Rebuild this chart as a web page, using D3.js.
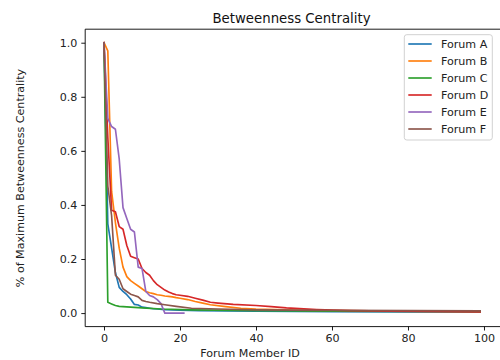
<!DOCTYPE html>
<html>
<head>
<meta charset="utf-8">
<script src="https://cdn.jsdelivr.net/npm/d3@7"></script>
<style>
  body { margin: 0; background: #fff; }
  svg { display: block; font-family: "DejaVu Sans", sans-serif; }
</style>
</head>
<body>
<svg id="chart" width="500" height="360"></svg>
<script>
// data: [member id, share of max betweenness]
const forumNames = ["Forum A", "Forum B", "Forum C", "Forum D", "Forum E", "Forum F"];

const forumA = [[0, 1.0], [1, 0.33], [2, 0.24], [3, 0.15], [4, 0.095], [5, 0.08], [6, 0.068], [7, 0.052],
  [8, 0.032], [9, 0.03], [10, 0.022], [11, 0.02], [12, 0.018], [13, 0.016], [14, 0.015], [16, 0.013],
  [18, 0.012], [20, 0.011], [25, 0.009], [40, 0.007], [60, 0.005], [80, 0.004], [99, 0.004]];
const forumB = [[0, 1.0], [1, 0.97], [2, 0.45], [3, 0.335], [4, 0.24], [5, 0.17], [6, 0.135], [7, 0.12],
  [8, 0.11], [9, 0.1], [10, 0.09], [11, 0.08], [12, 0.075], [13, 0.072], [14, 0.068], [15, 0.066],
  [16, 0.063], [17, 0.062], [18, 0.06], [19, 0.057], [20, 0.055], [22, 0.05], [24, 0.043], [26, 0.037],
  [28, 0.031], [32, 0.024], [36, 0.018], [40, 0.015], [50, 0.011], [60, 0.009], [80, 0.007], [99, 0.006]];
const forumC = [[0, 1.0], [1, 0.04], [2, 0.034], [3, 0.028], [4, 0.025], [6, 0.023], [10, 0.019],
  [15, 0.015], [23, 0.012], [40, 0.009], [60, 0.007], [80, 0.006], [99, 0.005]];
const forumD = [[0, 1.0], [1, 0.65], [2, 0.38], [3, 0.375], [4, 0.32], [5, 0.31], [6, 0.25], [7, 0.21],
  [8, 0.205], [9, 0.2], [10, 0.165], [11, 0.15], [12, 0.14], [13, 0.12], [14, 0.105], [15, 0.095],
  [16, 0.085], [17, 0.078], [18, 0.072], [19, 0.068], [20, 0.066], [22, 0.062], [24, 0.055], [26, 0.048],
  [28, 0.04], [30, 0.037], [34, 0.032], [40, 0.028], [44, 0.024], [48, 0.019], [56, 0.013], [65, 0.009],
  [75, 0.007], [99, 0.004]];
const forumE = [[0, 1.0], [1, 0.72], [2, 0.69], [3, 0.68], [4, 0.57], [5, 0.39], [6, 0.35], [7, 0.31],
  [8, 0.3], [9, 0.17], [10, 0.165], [11, 0.08], [12, 0.065], [13, 0.06], [14, 0.05], [15, 0.035],
  [16, 0.0], [17, 0.0], [18, 0.0], [19, 0.0], [20, 0.0], [21, 0.0]];
const forumF = [[0, 1.0], [1, 0.47], [2, 0.36], [3, 0.14], [4, 0.125], [5, 0.09], [6, 0.08], [7, 0.07],
  [8, 0.065], [9, 0.06], [10, 0.047], [11, 0.043], [12, 0.04], [14, 0.035], [16, 0.031], [19, 0.025],
  [23, 0.018], [30, 0.015], [40, 0.012], [60, 0.01], [80, 0.009], [99, 0.008]];

const xTicks = [0, 20, 40, 60, 80, 100];
const yTicks = [0.0, 0.2, 0.4, 0.6, 0.8, 1.0];

const series = [forumA, forumB, forumC, forumD, forumE, forumF];

// plot box, px (right spine falls just past the picture edge)
const plotL = 85.2, plotR = 499, plotT = 29.2, plotB = 326.6;

const svg = d3.select("#chart");

const x = d3.scaleLinear().domain([-4.95, 103.95]).range([plotL, plotR]);
const y = d3.scaleLinear().domain([-0.05, 1.05]).range([plotB, plotT]);
const color = d3.scaleOrdinal().domain(forumNames).range(d3.schemeCategory10);

const line = d3.line()
  .x(d => x(d[0]))
  .y(d => y(d[1]));

// lines
svg.append("g")
  .selectAll("path")
  .data(series)
  .join("path")
  .attr("d", d => line(d))
  .attr("fill", "none")
  .attr("stroke", (d, i) => color(forumNames[i]))
  .attr("stroke-width", 1.65)
  .attr("stroke-linejoin", "round")
  .attr("stroke-linecap", "square");

// axes
const xAxis = svg.append("g")
  .attr("transform", "translate(0," + plotB + ")")
  .call(d3.axisBottom(x).tickValues(xTicks).tickSize(3.9).tickPadding(3.9).tickFormat(d3.format("d")));

const yAxis = svg.append("g")
  .attr("transform", "translate(" + plotL + ",0)")
  .call(d3.axisLeft(y).tickValues(yTicks).tickSize(3.9).tickPadding(3.9).tickFormat(d3.format(".1f")));

[xAxis, yAxis].forEach(a => {
  a.select(".domain").remove();
  a.selectAll("line").attr("stroke", "#000").attr("stroke-width", 0.9);
  a.selectAll("text")
    .attr("fill", "#222")
    .style("font-family", "DejaVu Sans")
    .style("font-size", "11.1px");
});

// frame: left, top, bottom spines
svg.append("path")
  .attr("d", "M" + (plotR + 2) + "," + plotT + "H" + plotL + "V" + plotB + "H" + (plotR + 2))
  .attr("fill", "none")
  .attr("stroke", "#000")
  .attr("stroke-width", 0.9);

// title & labels
svg.append("text")
  .attr("x", 291.5)
  .attr("y", 22.5)
  .attr("text-anchor", "middle")
  .attr("fill", "#111")
  .style("font-size", "13.3px")
  .text("Betweenness Centrality");

svg.append("text")
  .attr("x", 250)
  .attr("y", 356.5)
  .attr("text-anchor", "middle")
  .attr("fill", "#222")
  .style("font-size", "11.1px")
  .text("Forum Member ID");

svg.append("text")
  .attr("transform", "translate(24,178) rotate(-90)")
  .attr("text-anchor", "middle")
  .attr("fill", "#222")
  .style("font-size", "11.1px")
  .text("% of Maximum Betweenness Centrality");

// legend
const lg = svg.append("g");
lg.append("rect")
  .attr("x", 404.3)
  .attr("y", 34.7)
  .attr("width", 88)
  .attr("height", 105.3)
  .attr("rx", 2.5)
  .attr("fill", "#fff")
  .attr("fill-opacity", 0.8)
  .attr("stroke", "#ccc")
  .attr("stroke-width", 0.9);

const items = lg.selectAll("g.item")
  .data(forumNames)
  .join("g")
  .attr("class", "item")
  .attr("transform", (d, i) => "translate(0," + (44 + i * 17) + ")");

items.append("line")
  .attr("x1", 408.3)
  .attr("x2", 431.7)
  .attr("stroke", d => color(d))
  .attr("stroke-width", 1.65);

items.append("text")
  .attr("x", 441)
  .attr("y", 4)
  .attr("fill", "#222")
  .style("font-size", "11.1px")
  .text(d => d);
</script>
</body>
</html>
